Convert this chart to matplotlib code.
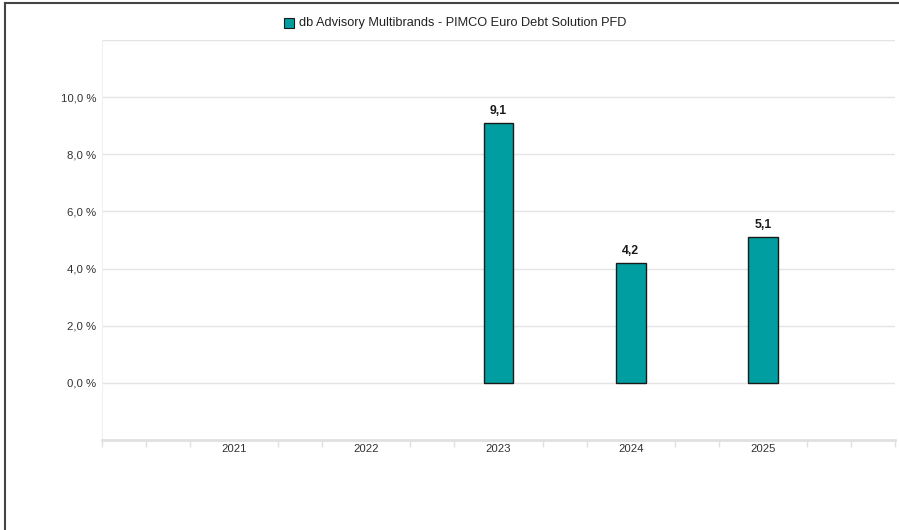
import matplotlib
matplotlib.use("Agg")
import matplotlib.pyplot as plt
from matplotlib.lines import Line2D
from matplotlib.patches import Rectangle
import numpy as np

plt.rcParams['font.family'] = ['Liberation Sans', 'DejaVu Sans']

categories = ["2021", "2022", "2023", "2024", "2025"]
values = [None, None, 9.1, 4.2, 5.1]
series_name = "db Advisory Multibrands - PIMCO Euro Debt Solution PFD"
yticks = [0, 2, 4, 6, 8, 10]

W, H = 899, 530
fig = plt.figure(figsize=(W / 100, H / 100), dpi=100)
ax = fig.add_axes([102 / W, 1 - 440 / H, (895 - 102) / W, (440 - 40) / H])

x = np.arange(len(categories))
teal = "#009EA0"
for xi, v in zip(x, values):
    if v is None:
        continue
    ax.bar(xi, v, width=0.225, color=teal, edgecolor="#1a1a1a", linewidth=1.0, zorder=3)
    ax.text(xi, v + 0.22, f"{v:.1f}".replace(".", ","), ha="center", va="bottom",
            fontsize=8.8, fontweight="bold", color="#1a1a1a")

ax.set_xlim(-1, len(categories))
ax.set_ylim(-2, 12)

# gridlines
for g in [0, 2, 4, 6, 8, 10, 12]:
    ax.axhline(g, color="#e4e4e4", linewidth=1.0, zorder=1)

ax.set_yticks(yticks)
ax.set_yticklabels([f"{t:.1f}".replace(".", ",") + " %" for t in yticks])
ax.tick_params(axis="y", length=0, pad=4, labelsize=8.2, labelcolor="#333333")

ax.set_xticks(x)
ax.set_xticklabels(categories)
ax.tick_params(axis="x", length=0, pad=3, labelsize=8.2, labelcolor="#333333")
minor = [p for p in np.arange(-1, len(categories) + 0.01, 1 / 3) if abs(p - round(p)) > 0.05 or round(p) in (-1, len(categories))]
ax.set_xticks(minor, minor=True)
ax.tick_params(axis="x", which="minor", length=5, width=1, color="#e0e0e0", direction="out")

for s in ["top", "right"]:
    ax.spines[s].set_visible(False)
ax.spines["left"].set_color("#f0f0f0")
ax.spines["left"].set_linewidth(0.8)
ax.spines["bottom"].set_color("#e0e0e0")
ax.spines["bottom"].set_linewidth(2)

# legend
fig.patches.append(Rectangle((284 / W, 1 - 28 / H), 10 / W, 10 / H, transform=fig.transFigure,
                             facecolor=teal, edgecolor="#1a1a1a", linewidth=0.8))
fig.text(299 / W, 1 - 23 / H, series_name, ha="left", va="center", fontsize=9.2, color="#222222")

# border
fig.add_artist(Line2D([5 / W, 5 / W], [0, 1 - 3 / H], color="#444444", linewidth=1.5, transform=fig.transFigure))
fig.add_artist(Line2D([5 / W, 1], [1 - 3 / H, 1 - 3 / H], color="#444444", linewidth=1.5, transform=fig.transFigure))

fig.savefig("out.png", dpi=100)
